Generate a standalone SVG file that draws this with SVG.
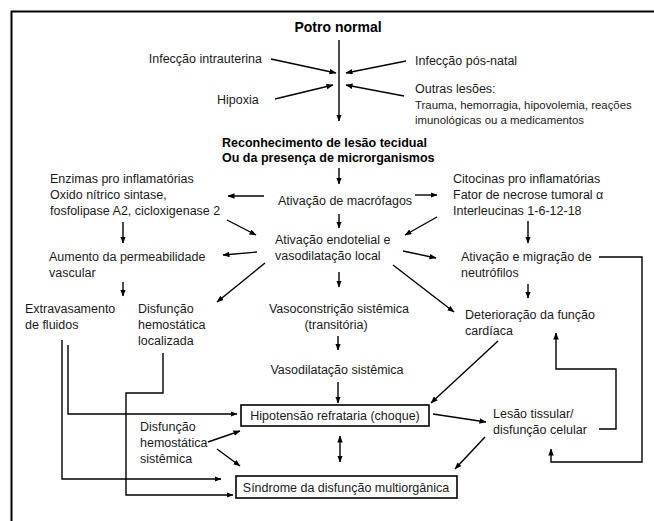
<svg xmlns="http://www.w3.org/2000/svg" width="654" height="521" viewBox="0 0 654 521">
<defs>
<marker id="ah" markerUnits="userSpaceOnUse" markerWidth="7" markerHeight="6" refX="6.5" refY="2.75" orient="auto-start-reverse">
<path d="M0,0 L7,2.75 L0,5.5 z" fill="#000"/>
</marker>
<style>
text{font-family:"Liberation Sans",Arial,sans-serif;font-size:12.5px;fill:#1a1a1a}
.b{font-weight:bold;font-size:12.5px;fill:#000}
.s{font-size:11.4px}
.m{text-anchor:middle}
.e{text-anchor:end}
.c line,.c polyline{stroke:#000;stroke-width:1.4;fill:none}
.a{marker-end:url(#ah)}
.box{fill:#fff;stroke:#000;stroke-width:1.6}
</style>
</defs>
<rect x="0" y="0" width="654" height="521" fill="#fff"/>
<path d="M11.5,521 V11.5 H654" fill="none" stroke="#000" stroke-width="2"/>

<g id="potro"><text class="b m" x="338" y="32" style="font-size:14px">Potro normal</text></g>
<g id="intrauterina"><text class="e" x="262" y="63">Infecção intrauterina</text></g>
<g id="posnatal"><text x="415" y="65">Infecção pós-natal</text></g>
<g id="hipoxia"><text x="217" y="104">Hipoxia</text></g>
<g id="outras"><text x="415" y="93">Outras lesões:</text>
<text class="s" x="415" y="109">Trauma, hemorragia, hipovolemia, reações</text>
<text class="s" x="415" y="124">imunológicas ou a medicamentos</text></g>
<g id="reconhecimento"><text class="b" x="222" y="147">Reconhecimento de lesão tecidual</text>
<text class="b" x="222" y="162">Ou da presença de microrganismos</text></g>
<g id="macrofagos"><text x="278" y="205">Ativação de macrófagos</text></g>
<g id="enzimas"><text x="50" y="183">Enzimas pro inflamatórias</text>
<text x="50" y="199">Oxido nítrico sintase,</text>
<text x="50" y="215">fosfolipase A2, cicloxigenase 2</text></g>
<g id="citocinas"><text x="453" y="183">Citocinas pro inflamatórias</text>
<text x="453" y="199">Fator de necrose tumoral α</text>
<text x="453" y="215">Interleucinas 1-6-12-18</text></g>
<g id="endotelial"><text x="275" y="244">Ativação endotelial e</text>
<text x="275" y="260">vasodilatação local</text></g>
<g id="permeabilidade"><text x="49" y="261">Aumento da permeabilidade</text>
<text x="49" y="277">vascular</text></g>
<g id="neutrofilos"><text x="461" y="261">Ativação e migração de</text>
<text x="461" y="277">neutrófilos</text></g>
<g id="extravasamento"><text x="25" y="313">Extravasamento</text>
<text x="25" y="329">de fluidos</text></g>
<g id="hemolocal"><text x="138" y="313">Disfunção</text>
<text x="138" y="329">hemostática</text>
<text x="138" y="345">localizada</text></g>
<g id="vasoconstricao"><text class="m" x="339" y="313">Vasoconstrição sistêmica</text>
<text class="m" x="336" y="329">(transitória)</text></g>
<g id="cardiaca"><text x="465" y="319">Deterioração da função</text>
<text x="465" y="335">cardíaca</text></g>
<g id="vasodilatacao"><text class="m" x="337" y="374">Vasodilatação sistêmica</text></g>
<g id="hipotensao"><rect class="box" x="241" y="405" width="188" height="21"/>
<text class="m" x="335" y="420">Hipotensão refrataria (choque)</text></g>
<g id="lesao"><text x="493" y="418">Lesão tissular/</text>
<text x="493" y="434">disfunção celular</text></g>
<g id="hemosistemica"><text x="140" y="431">Disfunção</text>
<text x="140" y="447">hemostática</text>
<text x="140" y="463">sistêmica</text></g>
<g id="sindrome"><rect class="box" x="236" y="476" width="221" height="22"/>
<text class="m" x="346" y="492">Síndrome da disfunção multiorgânica</text></g>

<g id="connectors" class="c">
<line class="a" x1="339" y1="40" x2="339" y2="121"/>
<line class="a" x1="271" y1="59" x2="336" y2="73"/>
<line class="a" x1="406" y1="61" x2="346" y2="73"/>
<line class="a" x1="275" y1="99" x2="333" y2="85"/>
<line class="a" x1="404" y1="96" x2="346" y2="85"/>
<line class="a" x1="339" y1="168" x2="339" y2="184"/>
<line class="a" x1="264" y1="196" x2="228" y2="196"/>
<line class="a" x1="415" y1="195" x2="437" y2="195"/>
<line class="a" x1="339" y1="214" x2="339" y2="228"/>
<line class="a" x1="227" y1="220" x2="256" y2="235"/>
<line class="a" x1="437" y1="217" x2="405" y2="235"/>
<line class="a" x1="123" y1="222" x2="123" y2="243"/>
<line class="a" x1="528" y1="221" x2="528" y2="243"/>
<line class="a" x1="257" y1="252" x2="223" y2="255"/>
<line class="a" x1="265" y1="263" x2="217" y2="302"/>
<line class="a" x1="403" y1="251" x2="436" y2="258"/>
<line class="a" x1="123" y1="282" x2="123" y2="296"/>
<line class="a" x1="339" y1="272" x2="339" y2="287"/>
<line class="a" x1="393" y1="265" x2="454" y2="312"/>
<line class="a" x1="528" y1="284" x2="528" y2="298"/>
<line class="a" x1="338" y1="336" x2="338" y2="350"/>
<line class="a" x1="338" y1="382" x2="338" y2="403"/>
<line class="a" x1="498" y1="341" x2="431" y2="403"/>
<line class="a" x1="433" y1="414" x2="486" y2="422"/>
<line class="a" x1="485" y1="437" x2="455" y2="469"/>
<line class="a" x1="340" y1="436" x2="340" y2="462" style="marker-start:url(#ah)"/>
<line class="a" x1="208" y1="442" x2="240" y2="431"/>
<line class="a" x1="217" y1="449" x2="240" y2="466"/>
<polyline class="a" points="599,257 642,257 642,462 551,462 551,449"/>
<polyline class="a" points="599,429 616,429 616,369 556,369 556,333"/>
<polyline class="a" points="62,340 62,479 221,479"/>
<polyline class="a" points="68,345 68,414 237,414"/>
<polyline class="a" points="163,353 163,393 126,393 126,495 233,495"/>
</g>
</svg>
